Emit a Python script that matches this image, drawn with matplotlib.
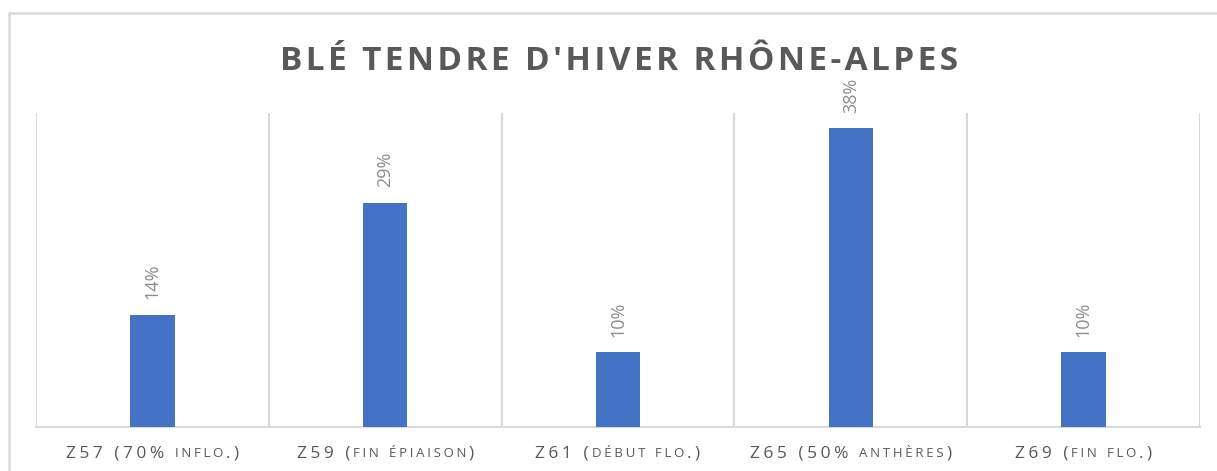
import numpy as np
import matplotlib.pyplot as plt
from matplotlib.patches import Rectangle
from matplotlib.offsetbox import TextArea, HPacker, AnnotationBbox

title = "BLÉ TENDRE D'HIVER RHÔNE-ALPES"
labels = ["Z57 (70% inflo.)", "Z59 (fin épiaison)", "Z61 (début flo.)",
          "Z65 (50% anthères)", "Z69 (fin flo.)"]
counts = [3, 6, 2, 8, 2]
shares = np.array(counts) / sum(counts)

W, H = 1217, 471
fig = plt.figure(figsize=(W / 100, H / 100), dpi=100)
fig.patches.append(Rectangle((9 / W, -0.1), 1.2, 1.1 - 13 / H, transform=fig.transFigure,
                             fill=False, edgecolor='#d9d9d9', linewidth=1.8))

ax = fig.add_axes([36 / W, 1 - 426.5 / H, (1200 - 36) / W, (426.5 - 113) / H])
x = np.arange(len(labels))
ax.bar(x, shares, width=0.19, color='#4472c4', zorder=3)
ax.set_xlim(-0.5, len(labels) - 0.5)
ax.set_ylim(0, 0.40)

for s in ['top', 'right', 'left']:
    ax.spines[s].set_visible(False)
ax.spines['bottom'].set_color('#d9d9d9')
ax.spines['bottom'].set_linewidth(1.5)
ax.set_yticks([])
ax.set_xticks([])
for b in np.arange(-0.5, len(labels)):
    ax.axvline(b, color='#d9d9d9', linewidth=1.5, zorder=1)

for xi, v in zip(x, shares):
    ax.annotate(f"{v:.0%}", (xi, v), xytext=(0, 11), textcoords='offset points',
                rotation=90, ha='center', va='bottom', color='#8c8c8c',
                fontsize=13, family='Open Sans')


def spaced(s, n=1):
    return ("\u200a" * n).join(s)


# tick labels with small caps for lowercase letters
for xi, lab in zip(x, labels):
    runs = []
    for ch in lab:
        small = ch.islower()
        if runs and runs[-1][1] == small:
            runs[-1][0] += ch
        else:
            runs.append([ch, small])
    boxes = []
    for txt, small in runs:
        t = txt.upper() if small else txt
        boxes.append(TextArea(spaced(t, 2), textprops=dict(
            color='#595959', family='Open Sans',
            fontsize=9.5 if small else 12.5)))
    pack = HPacker(children=boxes, pad=0, sep=2, align='baseline')
    ab = AnnotationBbox(pack, (xi, -0.085), xycoords=('data', 'axes fraction'),
                        frameon=False, box_alignment=(0.5, 0.5),
                        annotation_clip=False)
    ax.add_artist(ab)

fig.text(619 / W, 1 - 61 / H, spaced(title), ha='center', va='center',
         fontsize=24, fontweight='bold', color='#595959', family='Open Sans')

fig.savefig('out.png', dpi=100, facecolor='white')
